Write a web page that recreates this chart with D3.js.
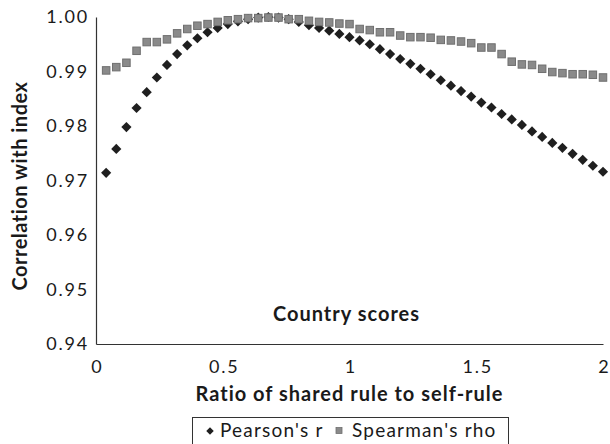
<!DOCTYPE html>
<html>
<head>
<meta charset="utf-8">
<script src="https://cdn.jsdelivr.net/npm/d3@7"></script>
<style>
  body { margin: 0; background: #fff; }
  svg text { font-family: Lato, "Open Sans", sans-serif; fill: #1a1a1a; }
</style>
</head>
<body>
<svg id="chart" width="610" height="444"></svg>
<script>
// ratio of shared rule to self-rule, 0.04 steps
const ratios = d3.range(1, 51).map(i => +(i * 0.04).toFixed(2));

const pearson = [
    0.9714, 0.9758, 0.9798, 0.9833, 0.9862, 0.9889, 0.9912, 0.9932, 0.9948, 0.9961,
    0.9972, 0.9980, 0.9987, 0.9992, 0.9996, 0.9999, 1.0000, 0.9999, 0.9996, 0.9991,
    0.9985, 0.9980, 0.9975, 0.9969, 0.9963, 0.9957, 0.9950, 0.9941, 0.9932, 0.9923,
    0.9914, 0.9905, 0.9895, 0.9884, 0.9874, 0.9864, 0.9854, 0.9843, 0.9834, 0.9822,
    0.9812, 0.9802, 0.9790, 0.9780, 0.9769, 0.9760, 0.9749, 0.9738, 0.9727, 0.9716
];

const spearman = [
    0.9902, 0.9908, 0.9916, 0.9938, 0.9954, 0.9954, 0.9959, 0.9970, 0.9978, 0.9984,
    0.9987, 0.9991, 0.9994, 0.9996, 0.9998, 0.9998, 0.9999, 0.9999, 0.9996, 0.9996,
    0.9993, 0.9991, 0.9990, 0.9988, 0.9987, 0.9978, 0.9976, 0.9972, 0.9972, 0.9966,
    0.9963, 0.9963, 0.9962, 0.9958, 0.9957, 0.9955, 0.9952, 0.9944, 0.9944, 0.9932,
    0.9918, 0.9913, 0.9912, 0.9905, 0.9899, 0.9897, 0.9895, 0.9895, 0.9894, 0.9889
];

const xTicks = [0, 0.5, 1, 1.5, 2];
const yTicks = [0.94, 0.95, 0.96, 0.97, 0.98, 0.99, 1.00];

const svg = d3.select('#chart');
const margin = { top: 17, right: 7, bottom: 100, left: 96 };
const width = 610 - margin.left - margin.right;
const height = 444 - margin.top - margin.bottom;

const x = d3.scaleLinear().domain([0, 2]).range([0, width]);
const y = d3.scaleLinear().domain([0.94, 1.00]).range([height, 0]);

const g = svg.append('g').attr('transform', `translate(${margin.left},${margin.top})`);

// axes (no tick marks, just the lines and labels)
const xAxis = g.append('g')
    .attr('transform', `translate(0,${height})`)
    .call(d3.axisBottom(x).tickValues(xTicks).tickSize(0).tickPadding(16)
        .tickFormat(d => d3.format('')(d)));
const yAxis = g.append('g')
    .call(d3.axisLeft(y).tickValues(yTicks).tickSize(0).tickPadding(7)
        .tickFormat(d3.format('.2f')));

[xAxis, yAxis].forEach(a => {
    a.select('.domain').attr('stroke', '#333').attr('stroke-width', 1.2);
    a.selectAll('text')
        .style('font-family', 'Lato, sans-serif')
        .style('font-size', '18px')
        .style('letter-spacing', '1.8px')
        .attr('fill', '#1a1a1a');
});
// letter-spacing leaves a trailing gap; nudge x labels back to centre
xAxis.selectAll('text').attr('dx', '0.9px');

// Pearson's r: black diamonds
const diamond = d3.symbol().type(d3.symbolDiamond2).size(66);
g.selectAll('.pearson')
    .data(ratios.map((r, i) => ({ r, v: pearson[i] })))
    .enter()
    .append('path')
    .attr('class', 'pearson')
    .attr('d', diamond)
    .attr('transform', d => `translate(${x(d.r)},${y(d.v)})`)
    .attr('fill', '#1f1f1f');

// Spearman's rho: gray squares, drawn on top
g.selectAll('.spearman')
    .data(ratios.map((r, i) => ({ r, v: spearman[i] })))
    .enter()
    .append('rect')
    .attr('class', 'spearman')
    .attr('x', d => x(d.r) - 3.75)
    .attr('y', d => y(d.v) - 3.75)
    .attr('width', 7.5)
    .attr('height', 7.5)
    .attr('fill', '#8a8a8a')
    .attr('stroke', '#6f6f6f')
    .attr('stroke-width', 1);

// inner caption
g.append('text')
    .attr('x', x(1) - 3)
    .attr('y', y(0.9443))
    .attr('text-anchor', 'middle')
    .style('font-size', '20px')
    .style('font-weight', 'bold')
    .style('letter-spacing', '1px')
    .text('Country scores');

// axis titles
svg.append('text')
    .attr('x', margin.left + width / 2)
    .attr('y', 401)
    .attr('text-anchor', 'middle')
    .style('font-size', '20px')
    .style('font-weight', 'bold')
    .style('letter-spacing', '1px')
    .text('Ratio of shared rule to self-rule');

svg.append('text')
    .attr('transform', `translate(27,186) rotate(-90)`)
    .attr('text-anchor', 'middle')
    .style('font-size', '20px')
    .style('font-weight', 'bold')
    .style('letter-spacing', '0.5px')
    .text('Correlation with index');

// legend
const legend = svg.append('g');
legend.append('rect')
    .attr('x', 192.5).attr('y', 417.5)
    .attr('width', 316).attr('height', 40)
    .attr('fill', 'none').attr('stroke', '#333').attr('stroke-width', 1);
legend.append('path')
    .attr('d', d3.symbol().type(d3.symbolDiamond2).size(36))
    .attr('transform', 'translate(210,431)')
    .attr('fill', '#1f1f1f');
legend.append('text')
    .attr('x', 220).attr('y', 437)
    .style('font-size', '19px')
    .style('letter-spacing', '1.2px')
    .text("Pearson's r");
legend.append('rect')
    .attr('x', 336).attr('y', 427.5)
    .attr('width', 6).attr('height', 6)
    .attr('fill', '#8a8a8a').attr('stroke', '#6f6f6f').attr('stroke-width', 0.8);
legend.append('text')
    .attr('x', 352).attr('y', 437)
    .style('font-size', '19px')
    .style('letter-spacing', '1.2px')
    .text("Spearman's rho");
</script>
</body>
</html>
